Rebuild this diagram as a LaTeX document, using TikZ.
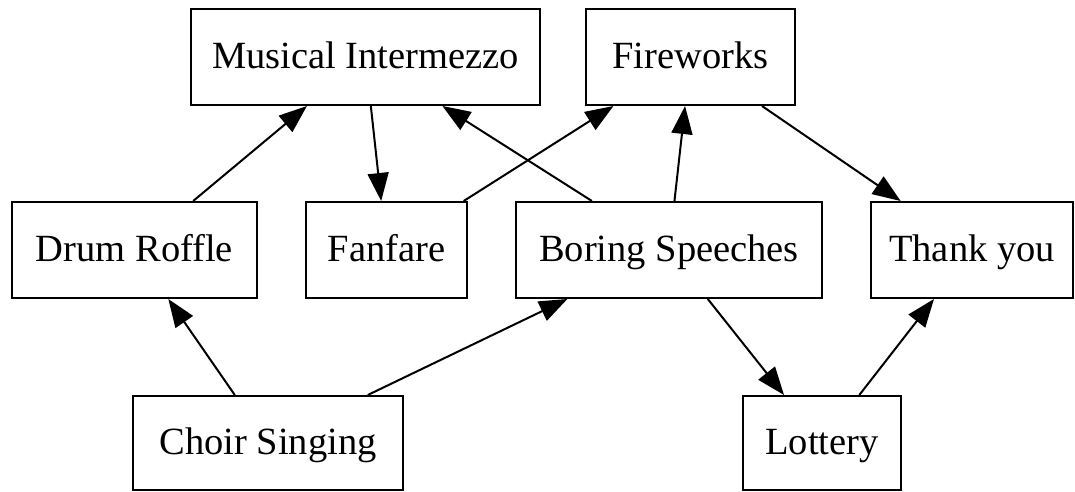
\documentclass[tikz,border=0pt]{standalone}
\usepackage{fontspec}
\setmainfont{Liberation Serif}
\usetikzlibrary{arrows.meta}
\begin{document}
\begin{tikzpicture}[x=1pt,y=-1pt,
  box/.style={draw=black, line width=2pt, rectangle, minimum height=96pt,
    inner sep=0pt, text height=30pt, text depth=7pt,
    font=\fontsize{38.5}{41}\selectfont},
  edge/.style={draw=black, line width=2pt,
    -{Triangle[length=28pt,width=21pt]}}]
\fill[white] (0,0) rectangle (1075,492);
\useasboundingbox (0,0) rectangle (1075,492);
\node[box, minimum width=349pt] (mi) at (365.5,57) {Musical Intermezzo};
\node[box, minimum width=209pt] (fw) at (690.5,57) {Fireworks};
\node[box, minimum width=245pt] (dr) at (134.5,250) {Drum Roffle};
\node[box, minimum width=161pt] (ff) at (386.5,250) {Fanfare};
\node[box, minimum width=306pt] (bs) at (669,250) {Boring Speeches};
\node[box, minimum width=202pt] (ty) at (972,250) {Thank you};
\node[box, minimum width=270pt, minimum height=94pt] (cs) at (268,443) {Choir Singing};
\node[box, minimum width=158pt, minimum height=94pt] (lo) at (822,443) {Lottery};
\draw[edge] (dr) -- (mi);
\draw[edge] (mi) -- (ff);
\draw[edge] (bs) -- (mi);
\draw[edge] (ff) -- (fw);
\draw[edge] (bs) -- (fw);
\draw[edge] (fw) -- (ty);
\draw[edge] (cs) -- (dr);
\draw[edge] (cs) -- (bs);
\draw[edge] (bs) -- (lo);
\draw[edge] (lo) -- (ty);
\end{tikzpicture}
\end{document}
